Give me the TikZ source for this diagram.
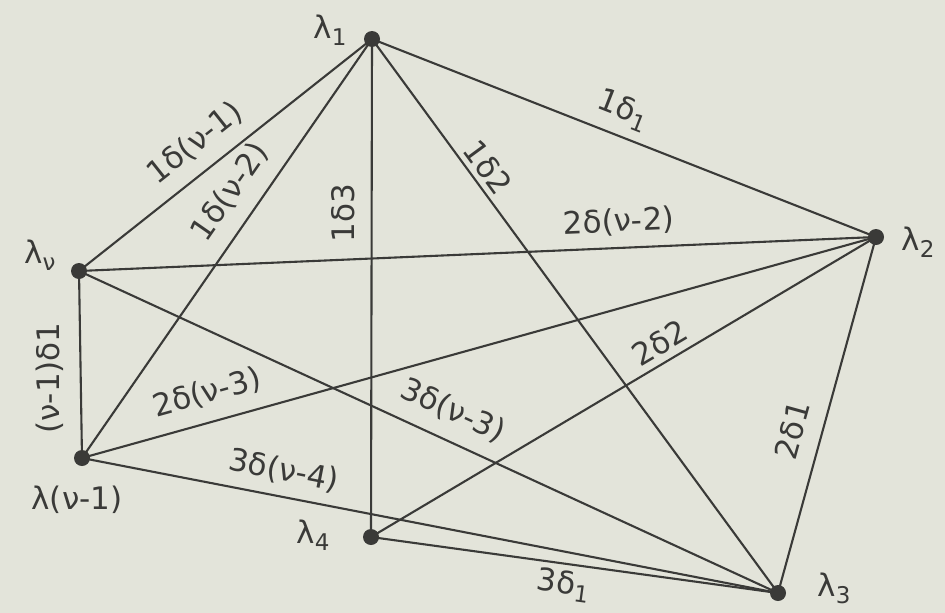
\documentclass[tikz,border=0pt]{standalone}
\usepackage{fontspec}
\setmainfont{DejaVu Sans}
\newcommand\lsub[1]{\raisebox{-0.4ex}{\fontsize{23}{23}\selectfont #1}}
\definecolor{paper}{HTML}{E3E4DA}
\definecolor{ink}{HTML}{3A3A38}
\tikzset{
  dot/.style={circle, fill=ink, inner sep=0pt, minimum size=16pt},
  edge/.style={draw=ink, line width=2.1pt},
  lab/.style={text=ink, inner sep=0pt, font=\fontsize{31}{33}\selectfont},
}
\begin{document}
\begin{tikzpicture}[x=1pt,y=-1pt]
\clip (0,0) rectangle (945,613);
\fill[paper] (0,0) rectangle (945,613);
% vertices
\node[dot] (l1) at (372,39) {};
\node[dot] (l2) at (876,237) {};
\node[dot] (l3) at (778,593) {};
\node[dot] (l4) at (371,537) {};
\node[dot] (lv) at (79,271) {};
\node[dot] (lv1) at (82,458) {};
% edges
\draw[edge] (l1.center) -- (l2.center);
\draw[edge] (l1.center) -- (lv.center);
\draw[edge] (l1.center) -- (lv1.center);
\draw[edge] (l1.center) -- (l4.center);
\draw[edge] (l1.center) -- (l3.center);
\draw[edge] (lv.center) -- (l2.center);
\draw[edge] (lv.center) -- (lv1.center);
\draw[edge] (lv.center) -- (l3.center);
\draw[edge] (lv1.center) -- (l2.center);
\draw[edge] (lv1.center) -- (l3.center);
\draw[edge] (l4.center) -- (l2.center);
\draw[edge] (l4.center) -- (l3.center);
\draw[edge] (l2.center) -- (l3.center);
% vertex labels
\node[lab] (n1) at (330,30) {λ\lsub{1}};
\node[lab] (n2) at (918,242) {λ\lsub{2}};
\node[lab] (n3) at (834,588) {λ\lsub{3}};
\node[lab] (n4) at (313,535) {λ\lsub{4}};
\node[lab] (nv) at (40,255) {λ\lsub{ν}};
\node[lab] (nv1) at (77,500) {λ(ν-1)};
% edge labels
\node[lab, rotate=38.4] (e1) at (195,143) {1δ(ν-1)};
\node[lab, rotate=55.3] (e2) at (230,192) {1δ(ν-2)};
\node[lab, rotate=90] (e3) at (343,213) {1δ3};
\node[lab, rotate=-21.4] (e4) at (623,110) {1δ\lsub{1}};
\node[lab, rotate=-53.7] (e5) at (488,167) {1δ2};
\node[lab, rotate=2.4] (e6) at (619,222) {2δ(ν-2)};
\node[lab, rotate=90] (e7) at (50,378) {(ν-1)δ1};
\node[lab, rotate=15.5] (e8) at (207,393) {2δ(ν-3)};
\node[lab, rotate=-24.7] (e9) at (453,411) {3δ(ν-3)};
\node[lab, rotate=30.7] (e10) at (660,343) {2δ2};
\node[lab, rotate=-11] (e11) at (284,471) {3δ(ν-4)};
\node[lab, rotate=-7.8] (e12) at (563,585) {3δ\lsub{1}};
\node[lab, rotate=74.6] (e13) at (792,430) {2δ1};
\end{tikzpicture}
\end{document}
